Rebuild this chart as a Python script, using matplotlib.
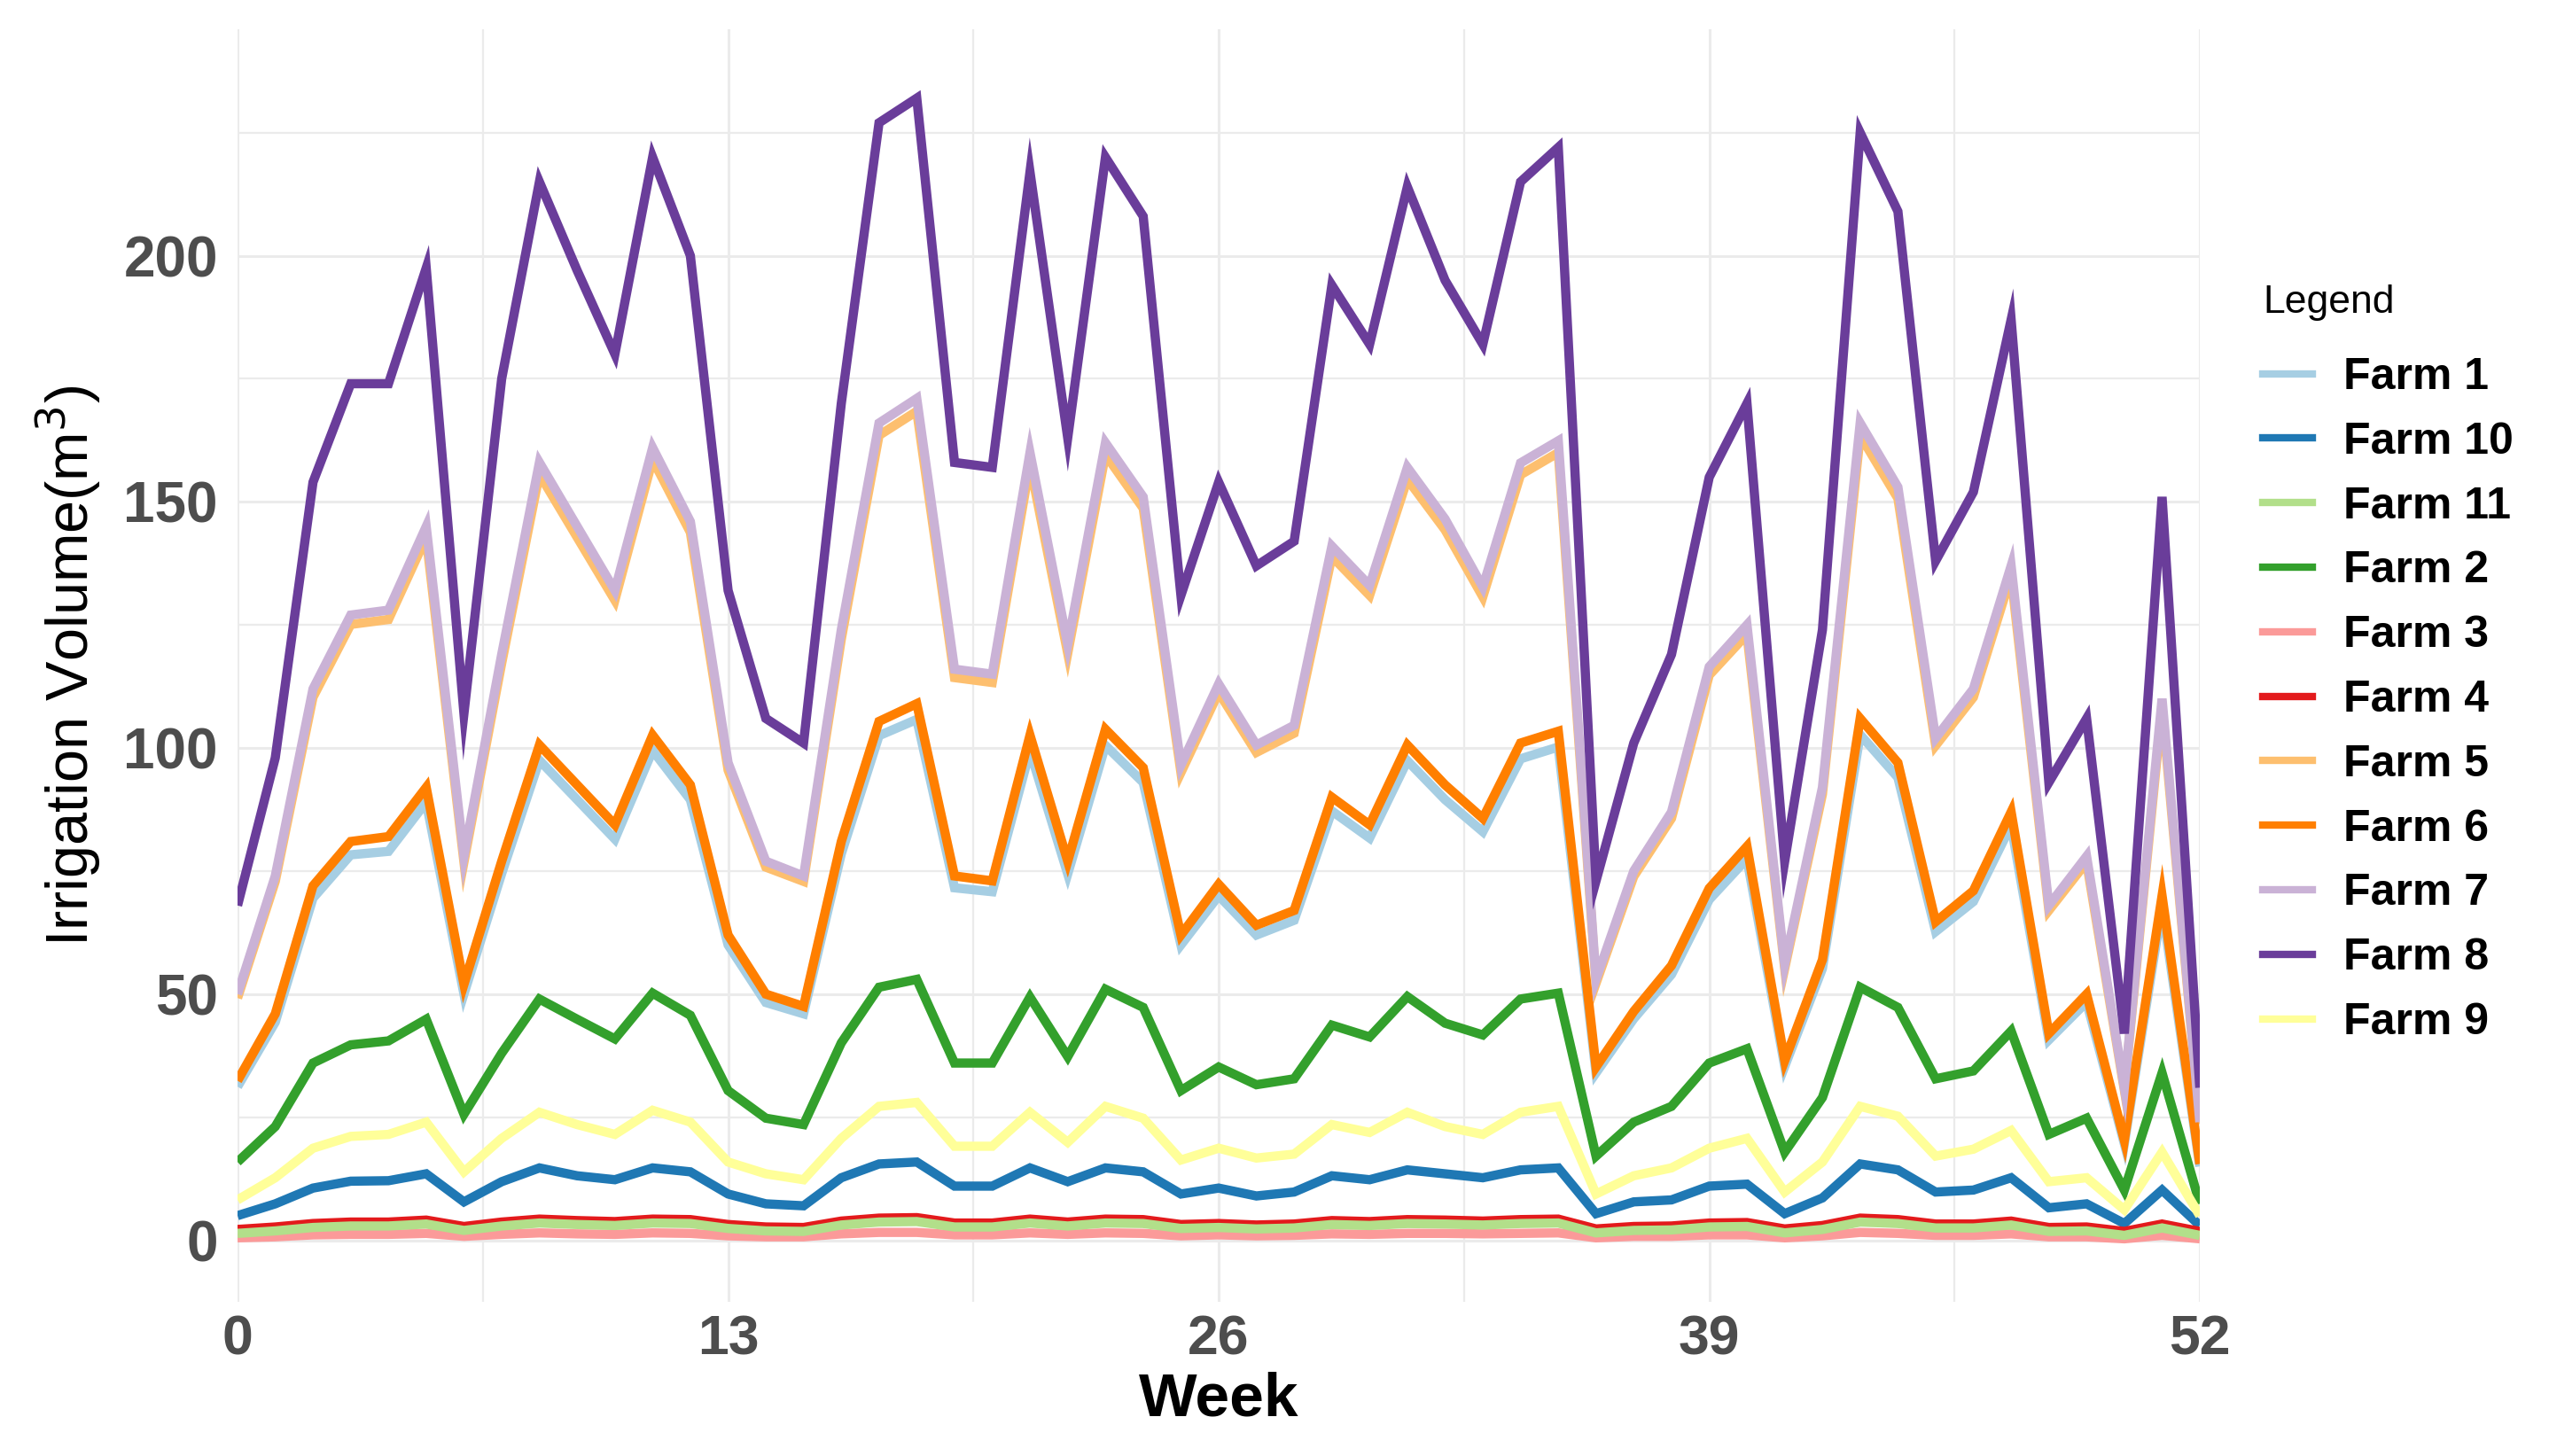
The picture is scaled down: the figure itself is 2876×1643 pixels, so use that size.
import matplotlib
matplotlib.use("Agg")
import matplotlib.pyplot as plt
from matplotlib.lines import Line2D

weeks = list(range(53))

farm8 = [68, 98, 154, 174, 174, 197.5, 107, 175, 215, 197, 180, 220, 200, 132, 106, 101,
         170, 227, 232, 158, 157, 217, 163, 220, 208, 131, 154, 137, 142, 194, 182, 214,
         195, 182, 215, 222, 73, 101, 119, 155, 170, 77, 124, 225, 209, 138, 152, 187,
         93, 106, 42, 151, 31]
farm7 = [50, 74, 112, 127, 128, 145, 78, 119, 158, 145, 132, 161, 146, 97, 77, 74,
         124, 166, 171, 116, 115, 160, 121, 162, 151, 96.5, 113, 100.6, 104.6, 141, 133, 157,
         146.5, 132.7, 157.9, 162.4, 53, 75, 87, 116.5, 125, 56, 92, 166, 153, 102, 112, 137,
         68, 78, 31, 110, 24]
farm5 = [49.2, 72.9, 110.3, 125.1, 126.1, 142.8, 76.8, 117.2, 155.6, 142.8, 130, 158.6, 143.8,
         95.5, 75.8, 72.9, 122.1, 163.5, 168.4, 114.3, 113.3, 157.6, 119.2, 159.6, 148.7, 95,
         111.3, 99.1, 103, 138.9, 131, 154.6, 144.3, 130.7, 155.5, 160, 52.2, 73.9, 85.7, 114.8,
         123.1, 55.2, 90.6, 163.5, 150.7, 100.5, 110.3, 135, 67, 76.8, 30.5, 108.4, 23.6]
farm6 = [32.4, 46, 72, 81, 82, 92, 52, 77, 100.6, 92.5, 84.4, 102.6, 92.5, 62, 50, 47.5,
         81, 105.4, 109, 74, 73, 102.6, 77, 103.8, 96, 62, 72.3, 64, 67, 90, 84.4, 100.6,
         92.5, 85.7, 101, 103.4, 35.2, 46.5, 55.8, 71.5, 80, 36.5, 57, 106, 97, 64.7, 71, 87,
         42, 50, 20.3, 70, 15.5]
farm1 = [31.2, 44.3, 69.5, 78.3, 79, 89, 50, 74.5, 97.5, 89.5, 81.5, 99.5, 89.5, 60, 48.3, 46,
         78.5, 102.5, 105.8, 71.6, 70.8, 99.4, 74.4, 100.5, 93, 60, 70, 62, 65, 87.2, 81.7, 97.4,
         89.5, 83, 97.8, 100.2, 34, 45, 54, 69.2, 77.5, 35.3, 55.2, 102.7, 94, 62.7, 68.8, 84.3,
         40.7, 48.4, 19.6, 67.8, 15]
farm2 = [15.9, 23.1, 36, 39.7, 40.5, 44.9, 25.6, 38, 49, 44.9, 40.9, 50.2, 45.7, 30.4, 24.8, 23.5,
         40.1, 51.4, 53, 36, 36, 49.4, 37.3, 51, 47.3, 30.4, 35.2, 31.6, 32.8, 43.7, 41.3, 49.5,
         44.1, 41.7, 49, 50.2, 17.1, 24, 27.2, 36, 38.9, 17.9, 29, 51.4, 47.3, 32.8, 34.4, 42.5,
         21.5, 24.8, 10.2, 34, 7.4]
farm9 = [8.2, 12.7, 18.7, 21.1, 21.5, 24, 13.9, 20.7, 26, 23.5, 21.5, 26.4, 24, 15.9, 13.5, 12.3,
         20.7, 27.2, 28, 19.1, 19.1, 26, 19.9, 27.2, 24.8, 16.3, 18.7, 16.7, 17.5, 23.5, 21.9, 26,
         23.1, 21.5, 26, 27.2, 9.4, 13.1, 14.7, 18.7, 20.7, 9.8, 15.9, 27.2, 25.2, 17.1, 18.5, 22.3,
         11.9, 12.7, 6.2, 17.9, 5]
farm10 = [5, 7.4, 10.6, 12, 12.1, 13.5, 7.8, 11.9, 14.7, 13.1, 12.3, 14.7, 13.9, 9.4, 7.4, 7,
          12.7, 15.5, 15.9, 11, 11, 14.7, 11.9, 14.7, 13.9, 9.4, 10.6, 9, 9.8, 13.1, 12.3, 14.3,
          13.5, 12.7, 14.3, 14.7, 5.4, 7.8, 8.2, 11, 11.4, 5.4, 8.6, 15.5, 14.3, 9.8, 10.2, 12.7,
          6.6, 7.4, 3.4, 10.2, 3]
farm4 = [2.2, 2.7, 3.4, 3.7, 3.7, 4.1, 2.8, 3.7, 4.3, 4, 3.8, 4.3, 4.2, 3.2, 2.7, 2.6,
         3.9, 4.5, 4.6, 3.5, 3.5, 4.3, 3.7, 4.3, 4.2, 3.2, 3.4, 3.1, 3.3, 4, 3.8, 4.2,
         4.1, 3.9, 4.2, 4.3, 2.3, 2.8, 2.9, 3.5, 3.6, 2.3, 3, 4.5, 4.2, 3.3, 3.3, 3.9,
         2.6, 2.7, 1.8, 3.3, 1.8]
farm11 = [1.4, 1.9, 2.6, 2.9, 2.9, 3.3, 2, 2.9, 3.5, 3.2, 3, 3.5, 3.4, 2.4, 1.9, 1.8,
          3.1, 3.7, 3.8, 2.7, 2.7, 3.5, 2.9, 3.5, 3.4, 2.4, 2.6, 2.3, 2.5, 3.2, 3, 3.4,
          3.3, 3.1, 3.4, 3.5, 1.5, 2, 2.1, 2.7, 2.8, 1.5, 2.2, 3.7, 3.4, 2.5, 2.5, 3.1,
          1.8, 1.9, 1, 2.5, 1]
farm3 = [0.5, 0.7, 1.1, 1.2, 1.2, 1.4, 0.8, 1.2, 1.5, 1.3, 1.2, 1.5, 1.4, 0.9, 0.7, 0.7,
         1.3, 1.6, 1.6, 1.1, 1.1, 1.5, 1.2, 1.5, 1.4, 0.9, 1.1, 0.9, 1, 1.3, 1.2, 1.4,
         1.4, 1.3, 1.4, 1.5, 0.5, 0.8, 0.8, 1.1, 1.1, 0.5, 0.9, 1.6, 1.4, 1, 1, 1.3,
         0.7, 0.7, 0.3, 1, 0.3]

legend_names = ["Farm 1", "Farm 10", "Farm 11", "Farm 2", "Farm 3", "Farm 4",
                "Farm 5", "Farm 6", "Farm 7", "Farm 8", "Farm 9"]
colors = {"Farm 1": "#A6CEE3", "Farm 10": "#1F78B4", "Farm 11": "#B2DF8A", "Farm 2": "#33A02C",
          "Farm 3": "#FB9A99", "Farm 4": "#E31A1C", "Farm 5": "#FDBF6F", "Farm 6": "#FF7F00",
          "Farm 7": "#CAB2D6", "Farm 8": "#6A3D9A", "Farm 9": "#FFFF99"}
series = {"Farm 1": farm1, "Farm 10": farm10, "Farm 11": farm11, "Farm 2": farm2,
          "Farm 3": farm3, "Farm 4": farm4, "Farm 5": farm5, "Farm 6": farm6,
          "Farm 7": farm7, "Farm 8": farm8, "Farm 9": farm9}
# small farms overlap near zero, red sits under the light green like in the original
draw_order = ["Farm 1", "Farm 10", "Farm 3", "Farm 4", "Farm 11", "Farm 2",
              "Farm 5", "Farm 6", "Farm 7", "Farm 8", "Farm 9"]

plt.rcParams["font.family"] = ["Liberation Sans", "DejaVu Sans"]

W, H = 2876, 1643
fig = plt.figure(figsize=(W / 100, H / 100), dpi=100)
ax = fig.add_axes([268 / W, 1 - 1469 / H, (2482 - 268) / W, (1469 - 33) / H])

for name in draw_order:
    ax.plot(weeks, series[name], color=colors[name], lw=7.5, solid_joinstyle="miter",
            solid_capstyle="butt")

ax.set_xlim(0, 52)
ax.set_ylim(-12.5, 246)
ax.set_xticks([0, 13, 26, 39, 52])
ax.set_xticks([6.5, 19.5, 32.5, 45.5], minor=True)
ax.set_yticks([0, 50, 100, 150, 200])
ax.set_yticks([25, 75, 125, 175, 225], minor=True)
ax.grid(True, which="major", color="#EBEBEB", lw=2.2)
ax.grid(True, which="minor", color="#EBEBEB", lw=1.6)
ax.set_axisbelow(True)
for s in ax.spines.values():
    s.set_visible(False)
ax.tick_params(which="both", length=0)
ax.tick_params(axis="x", pad=10, labelsize=45, labelcolor="#4D4D4D")
ax.tick_params(axis="y", pad=16, labelsize=46, labelcolor="#4D4D4D")
for lab in ax.get_xticklabels() + ax.get_yticklabels():
    lab.set_fontweight("bold")

ax.set_xlabel("Week", fontsize=50, fontweight="bold", color="black", labelpad=4)
ax.set_ylabel("Irrigation Volume(m$^3$)", fontsize=48, color="black", labelpad=17)

# legend
fig.text(2553 / W, 1 - 341 / H, "Legend", fontsize=32, ha="left", va="center")
handles = [Line2D([0], [0], color=colors[n], lw=6) for n in legend_names]
leg = fig.legend(handles, legend_names, loc="upper left",
                 bbox_to_anchor=(2553 / W, 1 - 403 / H), frameon=False,
                 prop={"size": 36, "weight": "bold"}, borderpad=0, borderaxespad=0,
                 handlelength=1.12, handletextpad=0.7, labelspacing=0.536)

fig.savefig("out.png", dpi=100, facecolor="white")
